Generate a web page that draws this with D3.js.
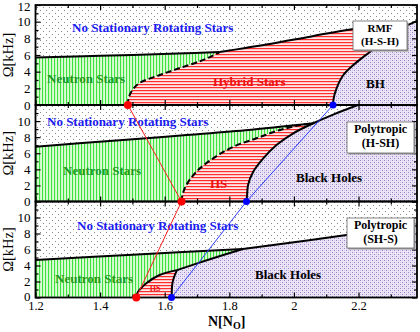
<!DOCTYPE html>
<html><head><meta charset="utf-8">
<script src="https://cdn.jsdelivr.net/npm/d3@7"></script>
<style>
body{margin:0;background:#fff}
svg{display:block}
text{font-family:"Liberation Serif","Times New Roman",serif}
</style></head>
<body><svg id="c" width="420" height="332"></svg>
<script>
// ---------------- data ----------------
const xMajorTicks = [1.2, 1.4, 1.6, 1.8, 2.0, 2.2];
const xTickLabels = ["1.2", "1.4", "1.6", "1.8", "2", "2.2"];
const xMinorTicks = [1.3, 1.5, 1.7, 1.9, 2.1, 2.3];
const yTicksTop = [0, 2, 4, 6, 8, 10, 12];
const yTicksLower = [0, 2, 4, 6, 8, 10];
const yMinorTicks = [1, 3, 5, 7, 9, 11];
const panelNames = [["RMF", "(H-S-H)"], ["Polytropic", "(H-SH)"], ["Polytropic", "(SH-S)"]];

// Panel 1: RMF (H-S-H)
const kepNS1 = [[1.2,5.7],[1.35,5.85],[1.5,6.0],[1.64,6.17],[1.77,6.35]];
const kepHS1 = [[1.77,6.35],[1.85,6.85],[1.93,7.35],[2.05,8.2],[2.18,9.1],[2.26,9.28],[2.34,9.38]];
const bhTop1 = [[2.34,9.38],[2.381,10.1]];
const hyb1   = [[1.486,0],[1.488,0.8],[1.50,1.8],[1.522,2.64],[1.585,3.6],[1.647,4.44],[1.709,5.25],[1.74,5.75],[1.77,6.35]];
const bh1    = [[2.121,0],[2.123,0.8],[2.132,2.0],[2.153,3.6],[2.184,4.8],[2.236,6.4],[2.29,8.0],[2.34,9.38]];

// Panel 2: Polytropic (H-SH)
const kepNS2 = [[1.2,6.8],[1.45,7.6],[1.65,8.2],[1.85,8.85],[2.06,9.73]];
const hyb2   = [[1.652,0],[1.655,0.8],[1.667,2.05],[1.698,3.7],[1.75,5.37],[1.812,6.8],[1.884,7.86],[1.957,8.9],[2.019,9.5],[2.06,9.73]];
const bh2    = [[1.853,0],[1.855,0.8],[1.858,2.05],[1.874,3.7],[1.905,5.37],[1.946,7.03],[1.998,8.48],[2.06,9.73],[2.127,10.9],[2.198,12]];

// Panel 3: Polytropic (SH-S)
const kep3   = [[1.2,4.7],[1.5,5.35],[1.842,6.06]];
const upper3 = [[1.842,6.06],[2.0,6.9],[2.163,7.81],[2.381,9.0]];
const hyb3   = [[1.512,0],[1.515,0.5],[1.522,0.94],[1.543,1.78],[1.584,2.81],[1.638,3.42]];
const bhR3   = [[1.621,0],[1.622,0.8],[1.623,1.56],[1.628,2.44],[1.638,3.42]];
const slant3 = [[1.638,3.42],[1.74,4.78],[1.842,6.06]];

// onset points (Omega = 0) in each panel
const hybridOnset = [1.486, 1.652, 1.512];
const bhOnset     = [2.121, 1.853, 1.621];

// ---------------- layout ----------------
const svg = d3.select('#c');
const x = d3.scaleLinear().domain([1.2, 2.381]).range([35.5, 417]);
const panelBounds = [[5,105],[105,201.5],[201.5,297.5]];
const ys = panelBounds.map(([t,b]) => d3.scaleLinear().domain([0,12]).range([b,t]));

const defs = svg.append('defs');
function pat(id, w, h, bg, items){
  const p = defs.append('pattern').attr('id',id).attr('width',w).attr('height',h).attr('patternUnits','userSpaceOnUse');
  p.append('rect').attr('width',w).attr('height',h).attr('fill',bg);
  items.forEach(it => p.append('rect').attr('x',it[0]).attr('y',it[1]).attr('width',it[2]).attr('height',it[3]).attr('fill',it[4]));
}
pat('dots', 6, 6, '#ffffff', [[1,1,1,1,'#8a8a8a'],[4,4,1,1,'#8a8a8a']]);
pat('green', 3, 3, '#dcfcd6', [[0,0,1.1,3,'#3ee23e']]);
pat('red', 3, 3, '#ffe8e8', [[0,0,3,1.2,'#ff2e2e']]);
pat('purple', 4, 4, '#ece5f6', [[0,0,1,1,'#9a82cc'],[2,2,1,1,'#9a82cc'],[2,0,1,1,'#d3c7ea'],[0,2,1,1,'#d3c7ea']]);

const tmp = svg.append('path').attr('fill','none').attr('stroke','none');
const curve = d3.curveCatmullRom.alpha(0.5);
function lineGen(y){ return d3.line().x(p=>x(p[0])).y(p=>y(p[1])).curve(curve); }
function S(pts, y){
  tmp.attr('d', lineGen(y)(pts));
  const node = tmp.node(), L = node.getTotalLength();
  const n = Math.max(2, Math.ceil(L/1.5));
  return d3.range(n+1).map(i => { const q = node.getPointAtLength(L*i/n); return [q.x, q.y]; });
}
function P(pts, y){ return pts.map(p => [x(p[0]), y(p[1])]); }
function R(a){ return a.slice().reverse(); }
function area(g, arr, fill){
  g.append('path').attr('d', 'M' + arr.map(p => p[0].toFixed(2)+','+p[1].toFixed(2)).join('L') + 'Z').attr('fill', fill);
}
function line(g, pts, y, dashed){
  g.append('path').attr('d', lineGen(y)(pts)).attr('fill','none').attr('stroke','#000')
   .attr('stroke-width', 2).attr('stroke-dasharray', dashed ? '6,3' : null);
}

const panels = [];
ys.forEach((y, i) => {
  const [t, b] = panelBounds[i];
  defs.append('clipPath').attr('id','clip'+i).append('rect')
    .attr('x', x.range()[0]).attr('y', t).attr('width', x.range()[1]-x.range()[0]).attr('height', b-t);
  const g = svg.append('g').attr('clip-path', 'url(#clip'+i+')');
  g.append('rect').attr('x', x.range()[0]).attr('y', t).attr('width', x.range()[1]-x.range()[0]).attr('height', b-t).attr('fill','url(#dots)');
  panels.push(g);
});

// Panel 1 fills & lines
{
  const g = panels[0], y = ys[0];
  area(g, [...P([[1.2,0]],y), ...S(kepNS1,y), ...R(S(hyb1,y))], 'url(#green)');
  area(g, [...S(hyb1,y), ...S(kepHS1,y), ...R(S(bh1,y))], 'url(#red)');
  area(g, [...S(bh1,y), ...S(bhTop1,y), ...P([[2.381,0]],y)], 'url(#purple)');
  line(g, kepNS1, y); line(g, kepHS1, y); line(g, bhTop1, y);
  line(g, hyb1, y, true); line(g, bh1, y);
}
// Panel 2
{
  const g = panels[1], y = ys[1];
  area(g, [...P([[1.2,0]],y), ...S(kepNS2,y), ...R(S(hyb2,y))], 'url(#green)');
  area(g, [...S(hyb2,y), ...R(S(bh2,y))], 'url(#red)');
  area(g, [...S(bh2,y), ...P([[2.381,12],[2.381,0]],y)], 'url(#purple)');
  line(g, kepNS2, y); line(g, hyb2, y, true); line(g, bh2, y);
}
// Panel 3
{
  const g = panels[2], y = ys[2];
  area(g, [...P([[1.2,0]],y), ...S(kep3,y), ...R(S(slant3,y)), ...R(S(hyb3,y))], 'url(#green)');
  area(g, [...S(hyb3,y), ...R(S(bhR3,y))], 'url(#red)');
  area(g, [...S(bhR3,y), ...S(slant3,y), ...S(upper3,y), ...P([[2.381,0]],y)], 'url(#purple)');
  line(g, kep3, y); line(g, upper3, y); line(g, slant3, y); line(g, hyb3, y); line(g, bhR3, y);
}

// ---------------- text in regions ----------------
function label(txt, px, py, color, size, anchor){
  svg.append('text').attr('x',px).attr('y',py).attr('fill',color).attr('font-size',size)
    .attr('font-weight','bold').attr('text-anchor',anchor||'start').text(txt);
}
const blue = '#1c1cf0', green = '#229a22', red = '#ee1111';
label('No Stationary Rotating Stars', 72, 32, blue, 13);
label('Neutron Stars', 47, 83, green, 13);
label('Hybrid Stars', 213, 86, red, 13);
label('BH', 366, 88, '#000', 13);
label('No Stationary Rotating Stars', 47, 126, blue, 13);
label('Neutron Stars', 63, 175, green, 13);
label('HS', 210, 188, red, 13);
label('Black Holes', 296, 182, '#000', 13);
label('No Stationary Rotating Stars', 77, 230, blue, 13);
label('Neutron Stars', 55, 283, green, 13);
label('HS', 155, 291, red, 8, 'middle');
label('Black Holes', 255, 279, '#000', 13);

// ---------------- axes ----------------
ys.forEach((y, i) => {
  const [t, b] = panelBounds[i];
  const ax = svg.append('g');
  const mk = (axis, tx, ty) => { const gg = ax.append('g').attr('transform',`translate(${tx},${ty})`).call(axis); gg.select('.domain').remove(); gg.selectAll('line').attr('stroke','#000').attr('stroke-width',1.2); return gg; };
  mk(d3.axisBottom(x).tickValues(xMajorTicks).tickSize(-5).tickFormat(''), 0, b);
  mk(d3.axisBottom(x).tickValues(xMinorTicks).tickSize(-3).tickFormat(''), 0, b);
  mk(d3.axisTop(x).tickValues(xMajorTicks).tickSize(-5).tickFormat(''), 0, t);
  mk(d3.axisTop(x).tickValues(xMinorTicks).tickSize(-3).tickFormat(''), 0, t);
  const yl = mk(d3.axisLeft(y).tickValues(i === 0 ? yTicksTop : yTicksLower).tickSize(-5).tickPadding(5).tickFormat(d3.format('d')), x.range()[0], 0);
  yl.selectAll('text').attr('font-size', 13).attr('font-family','"Liberation Serif",serif').attr('fill','#000')
    .attr('dy', d => (i === 0 && d === 12) ? '0.45em' : (i === 2 && d === 0 ? '0.2em' : '0.32em'));
  mk(d3.axisLeft(y).tickValues(yMinorTicks).tickSize(-3).tickFormat(''), x.range()[0], 0);
  mk(d3.axisRight(y).tickValues(yTicksTop).tickSize(-5).tickFormat(''), x.range()[1], 0);
  mk(d3.axisRight(y).tickValues(yMinorTicks).tickSize(-3).tickFormat(''), x.range()[1], 0);
  if (i === 2) {
    const xl = mk(d3.axisBottom(x).tickValues(xMajorTicks).tickSize(0).tickPadding(4).tickFormat((d,k)=>xTickLabels[k]), 0, b);
    xl.selectAll('text').attr('font-size', 12.5).attr('font-family','"Liberation Serif",serif').attr('fill','#000');
  }
  svg.append('rect').attr('x', x.range()[0]).attr('y', t).attr('width', x.range()[1]-x.range()[0]).attr('height', b-t)
    .attr('fill','none').attr('stroke','#000').attr('stroke-width',1.8);
  svg.append('text').attr('transform',`translate(13,${(t+b)/2}) rotate(-90)`).attr('text-anchor','middle')
    .attr('font-size',14.5).text('Ω[kHz]');
});

const xl = svg.append('text').attr('x', 208).attr('y', 326).attr('font-size', 14).attr('font-weight','bold');
xl.append('tspan').text('N[N');
xl.append('tspan').attr('font-size', 10).attr('dy', 3).text('O');
xl.append('tspan').attr('dy', -3).text(']');

// ---------------- legend boxes ----------------
const boxes = [[353,21,54,29,32,45,11],[347,122,67,31,133,147,12],[347,218,67,30,229,243,12]];
boxes.forEach((bx, i) => {
  svg.append('rect').attr('x',bx[0]+1.5).attr('y',bx[1]+1.5).attr('width',bx[2]).attr('height',bx[3]).attr('fill','#9a9a9a');
  svg.append('rect').attr('x',bx[0]).attr('y',bx[1]).attr('width',bx[2]).attr('height',bx[3]).attr('fill','#fff').attr('stroke','#666').attr('stroke-width',0.8);
  const cx = bx[0] + bx[2]/2;
  label(panelNames[i][0], cx, bx[4], '#000', bx[6], 'middle');
  label(panelNames[i][1], cx, bx[5], '#000', bx[6], 'middle');
});

// ---------------- connecting lines and onset dots ----------------
const redPts = hybridOnset.map((n,i) => [x(n), ys[i](0)]);
const bluePts = bhOnset.map((n,i) => [x(n), ys[i](0)]);
svg.append('path').attr('d', d3.line()(redPts)).attr('fill','none').attr('stroke','#ff2020').attr('stroke-width',1);
svg.append('path').attr('d', d3.line()(bluePts)).attr('fill','none').attr('stroke','#2a3cff').attr('stroke-width',1);
svg.selectAll('circle.r').data(redPts).join('circle').attr('class','r').attr('cx',d=>d[0]).attr('cy',d=>d[1]).attr('r',4).attr('fill','#ff0000');
svg.selectAll('circle.b').data(bluePts).join('circle').attr('class','b').attr('cx',d=>d[0]).attr('cy',d=>d[1]).attr('r',3.5).attr('fill','#0000ff');
tmp.remove();
</script></body></html>
